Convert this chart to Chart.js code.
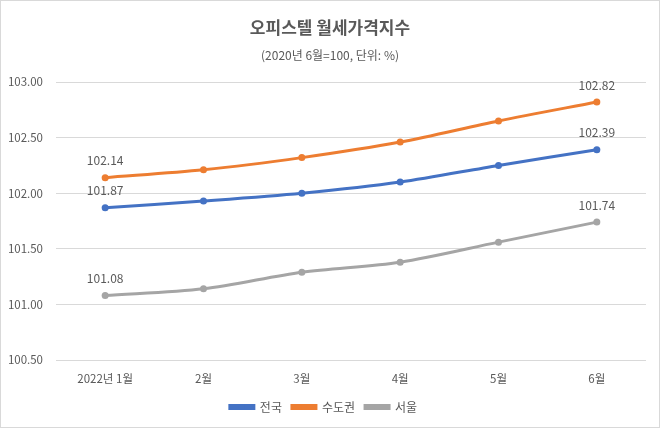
<!DOCTYPE html>
<html><head><meta charset="utf-8">
<script src="https://cdn.jsdelivr.net/npm/chart.js@4/dist/chart.umd.min.js"></script>
<style>html,body{margin:0;padding:0;background:#fff}#wrap{width:658px;height:426px;border:1px solid #D9D9D9;position:relative}canvas{display:block}</style>
</head><body><div id="wrap"><canvas id="c" width="658" height="426"></canvas></div>
<script>
const categories = ['2022년 1월','2월','3월','4월','5월','6월'];
const nationwide = [101.87, 101.93, 102.00, 102.10, 102.25, 102.39];
const capital = [102.14, 102.21, 102.32, 102.46, 102.65, 102.82];
const seoul = [101.08, 101.14, 101.29, 101.38, 101.56, 101.74];
const seriesNames = ['전국','수도권','서울'];
const colors = ['#4472C4','#ED7D31','#A5A5A5'];
const titleText = '오피스텔 월세가격지수';
const subtitleText = '(2020년 6월=100, 단위: %)';
const FONT = "'Noto Sans CJK KR', 'Noto Sans', sans-serif";
const TXT = '#595959';

const labelPlugin = {
  id: 'labels',
  afterDatasetsDraw(chart) {
    const ctx = chart.ctx;
    ctx.save();
    ctx.font = '12px ' + FONT;
    ctx.fillStyle = TXT;
    ctx.textAlign = 'center';
    ctx.textBaseline = 'middle';
    chart.data.datasets.forEach((ds, i) => {
      const meta = chart.getDatasetMeta(i);
      [0, ds.data.length - 1].forEach(j => {
        const p = meta.data[j];
        ctx.fillText(ds.data[j].toFixed(2), p.x, p.y - 17);
      });
    });
    ctx.restore();
  },
  afterDraw(chart) {
    const ctx = chart.ctx;
    ctx.save();
    ctx.fillStyle = TXT;
    ctx.textAlign = 'center';
    ctx.textBaseline = 'middle';
    ctx.font = 'bold 17px ' + FONT;
    ctx.fillText(titleText, chart.width / 2, 27);
    ctx.font = '12px ' + FONT;
    ctx.fillText(subtitleText, chart.width / 2, 54);
    const lg = chart.legend;
    if (lg && lg.legendHitBoxes) {
      lg.legendHitBoxes.forEach((b, i) => {
        const cx = b.left + lg.options.labels.boxWidth / 2;
        const cy = b.top + b.height / 2;
        ctx.beginPath();
        ctx.arc(cx, cy, 3, 0, Math.PI * 2);
        ctx.fillStyle = colors[i];
        ctx.fill();
      });
    }
    ctx.restore();
  }
};

new Chart(document.getElementById('c'), {
  type: 'line',
  data: {
    labels: categories,
    datasets: [nationwide, capital, seoul].map((d, i) => ({
      label: seriesNames[i],
      data: d,
      borderColor: colors[i],
      backgroundColor: colors[i],
      borderWidth: 3,
      pointRadius: 3.5,
      pointBorderWidth: 0,
      pointBackgroundColor: colors[i],
      tension: 0.3
    }))
  },
  options: {
    responsive: false,
    animation: false,
    layout: { padding: { top: 81, right: 13, left: 0, bottom: 4 } },
    plugins: {
      legend: {
        position: 'bottom',
        labels: {
          font: { family: FONT, size: 12 },
          color: TXT,
          boxWidth: 24,
          boxHeight: 3,
          padding: 10
        }
      },
      tooltip: { enabled: false },
      title: { display: false }
    },
    scales: {
      x: {
        offset: true,
        grid: { display: false, drawTicks: false, offset: true },
        border: { display: false },
        ticks: { color: TXT, font: { family: FONT, size: 11.5 }, padding: 12, maxRotation: 0 },
        afterFit(s) { s.height = 31; }
      },
      y: {
        min: 100.5, max: 103,
        grid: { color: '#D9D9D9', drawTicks: false, lineWidth: 1 },
        border: { display: false },
        ticks: { stepSize: 0.5, color: TXT, font: { family: FONT, size: 11.5 }, padding: 13,
          callback: v => v.toFixed(2) },
        afterFit(s) { s.width = 55; }
      }
    }
  },
  plugins: [labelPlugin]
});
</script></body></html>
